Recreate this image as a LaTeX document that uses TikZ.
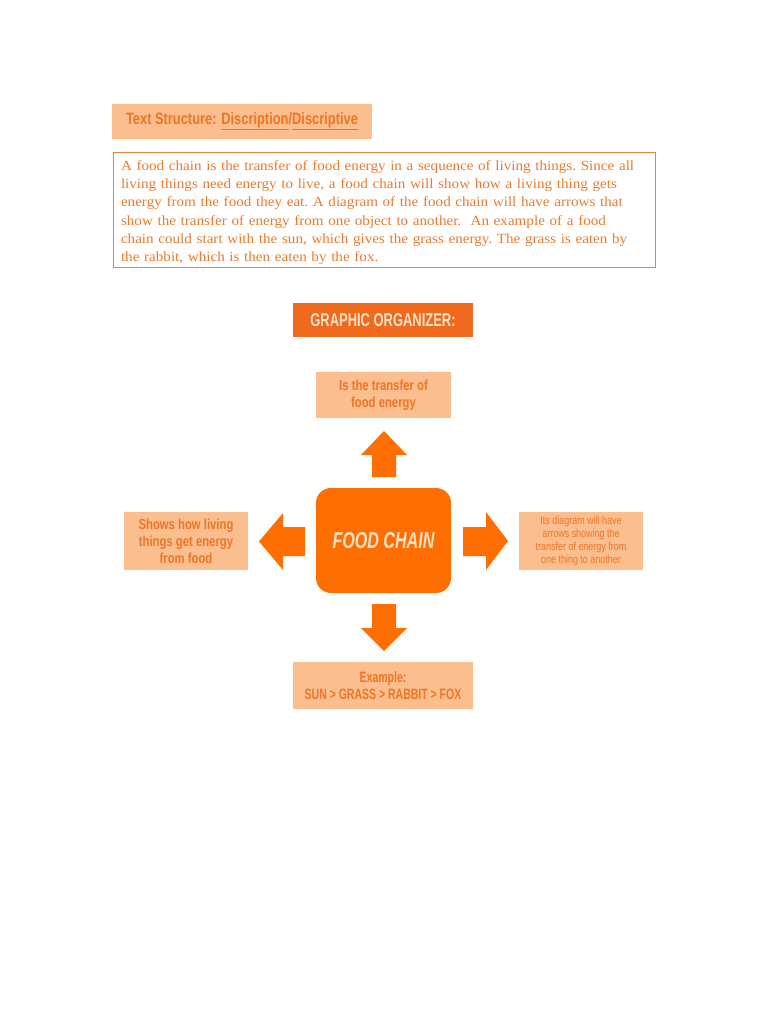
\documentclass[tikz,border=0pt]{standalone}
\usepackage{fontspec}
\setmainfont{Liberation Serif}
\newfontfamily\parafont[FakeStretch=1.08]{Liberation Serif}
\newfontfamily\cond[FakeStretch=0.78]{Liberation Sans}
\newfontfamily\xcond[FakeStretch=0.7]{Liberation Sans}
\definecolor{lightfill}{HTML}{FBBF8F}
\definecolor{txtorange}{HTML}{F07424}
\definecolor{paraorange}{HTML}{EC7A2C}
\definecolor{darkfill}{HTML}{EF6A1C}
\definecolor{bright}{HTML}{FF6E00}
\definecolor{paletxt}{HTML}{FDE0C8}
\definecolor{border}{HTML}{F08040}
\begin{document}
\begin{tikzpicture}[x=1pt,y=-1pt,
  lbox/.style={fill=lightfill, inner sep=0pt, align=center, text=txtorange,
    font=\cond\bfseries\fontsize{14.5}{17}\selectfont},
  bigarrow/.style={fill=bright}]
\useasboundingbox (0,0) rectangle (768,1024);
\fill[white] (0,0) rectangle (768,1024);

\node[lbox, minimum width=260pt, minimum height=35pt, font=\cond\bfseries\fontsize{16.5}{18}\selectfont]
  (title) at (242,121.5) {Text Structure: \underline{Discription}/\underline{Discriptive}};

\node[draw=border, line width=0.9pt, fill=white, minimum width=542pt, minimum height=115pt, inner sep=0pt]
  (para) at (384,209.5) {};
\node[text=paraorange, text width=526pt, inner sep=0pt, align=left,
  font=\parafont\fontsize{14}{18.3}\selectfont] (paratext) at ([yshift=-3pt]para.center)
  {\frenchspacing A food chain is the transfer of food energy in a sequence of living things. Since all\\
   living things need energy to live, a food chain will show how a living thing gets\\
   energy from the food they eat. A diagram of the food chain will have arrows that\\
   show the transfer of energy from one object to another.\ \ An example of a food\\
   chain could start with the sun, which gives the grass energy. The grass is eaten by\\
   the rabbit, which is then eaten by the fox.};

\node[fill=darkfill, text=paletxt, minimum width=180pt, minimum height=34pt, inner sep=0pt,
  font=\xcond\bfseries\fontsize{18.5}{20}\selectfont] (org) at (383,320) {GRAPHIC ORGANIZER:};

\node[lbox, minimum width=135pt, minimum height=46pt] (top) at (383.5,395)
  {Is the transfer of\\food energy};

\node[fill=bright, rounded corners=15pt, minimum width=135pt, minimum height=105pt, inner sep=0pt,
  text=paletxt, font=\xcond\bfseries\itshape\fontsize{23}{25}\selectfont] (fc) at (383.5,540.5) {FOOD CHAIN};

\node[lbox, minimum width=124pt, minimum height=58pt] (left) at (186,541)
  {Shows how living\\things get energy\\from food};

\node[lbox, minimum width=124pt, minimum height=58pt, font=\cond\fontsize{11.5}{12.8}\selectfont] (right) at (581,541)
  {Its diagram will have\\arrows showing the\\transfer of energy from\\one thing to another};

\node[lbox, minimum width=180pt, minimum height=47pt, font=\xcond\bfseries\fontsize{15}{17}\selectfont] (bottom) at (383,685.5)
  {Example:\\SUN > GRASS > RABBIT > FOX};

% block arrows
\fill[bigarrow] (384,431) -- (407,455) -- (396,455) -- (396,477) -- (372,477) -- (372,455) -- (361,455) -- cycle;
\fill[bigarrow] (384,651) -- (407,628) -- (396,628) -- (396,604) -- (372,604) -- (372,628) -- (361,628) -- cycle;
\fill[bigarrow] (259,541.5) -- (283,513) -- (283,527) -- (305,527) -- (305,556) -- (283,556) -- (283,570) -- cycle;
\fill[bigarrow] (508,541) -- (486,512) -- (486,527) -- (463,527) -- (463,556) -- (486,556) -- (486,570) -- cycle;
\end{tikzpicture}
\end{document}
